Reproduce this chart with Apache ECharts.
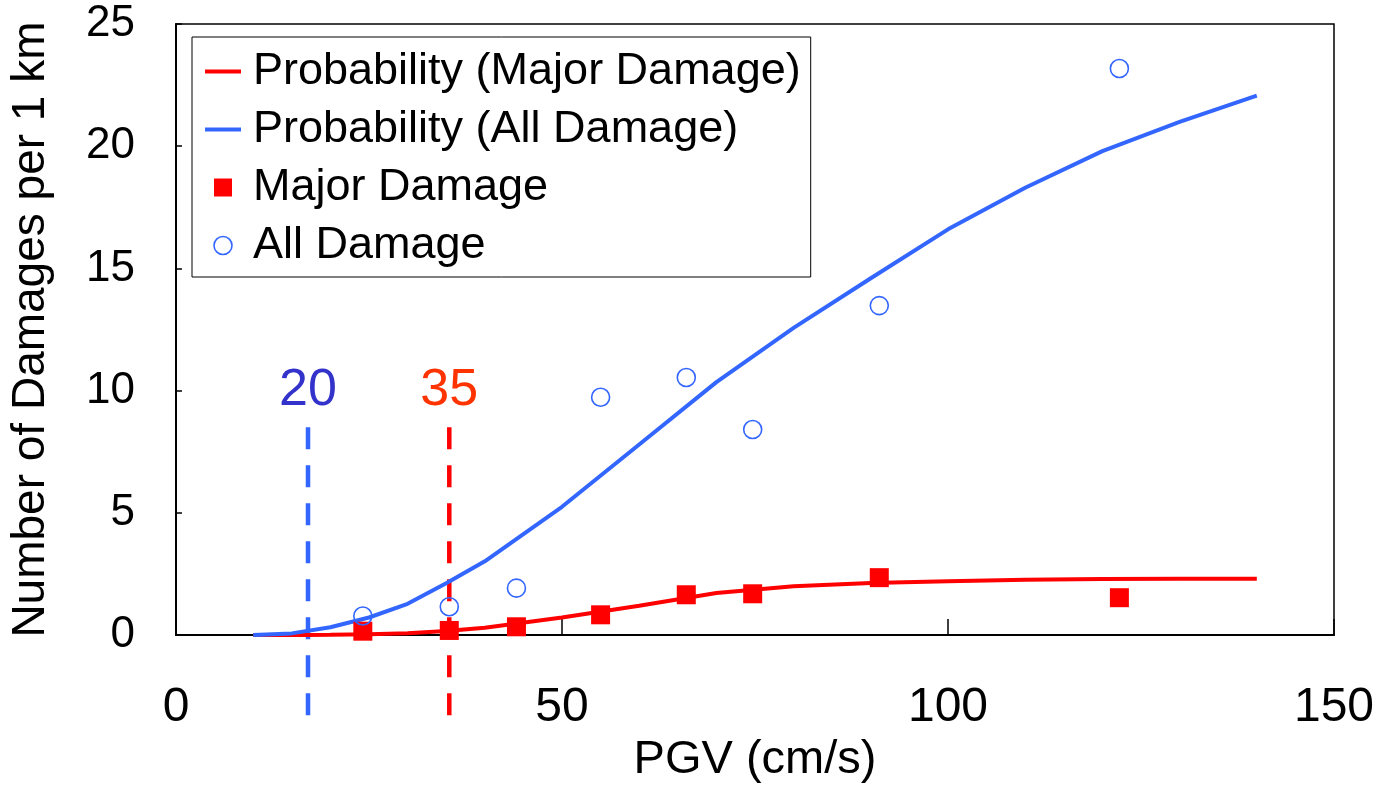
<!DOCTYPE html>
<html><head><meta charset="utf-8">
<script src="https://cdn.jsdelivr.net/npm/echarts@6/dist/echarts.min.js"></script>
<style>html,body{margin:0;padding:0;background:#fff}#c{width:1387px;height:789px}</style>
</head><body><div id="c"></div>
<script>
const pgvObserved = [24.2, 35.4, 44.1, 55.0, 66.1, 74.7, 91.1, 122.2];
const majorDamage = [0.16, 0.19, 0.34, 0.83, 1.65, 1.69, 2.35, 1.53];
const allDamage   = [0.78, 1.16, 1.92, 9.73, 10.54, 8.41, 13.48, 23.18];
// Fitted probability curves
const pgvCurve  = [10, 15, 20, 25, 30, 35, 40, 50, 60, 70, 80, 90, 100, 110, 120, 130, 140];
const probMajor = [0, 0, 0.01, 0.03, 0.08, 0.17, 0.3, 0.72, 1.2, 1.72, 2.0, 2.13, 2.2, 2.26, 2.3, 2.31, 2.31];
const probAll   = [0, 0.07, 0.32, 0.72, 1.28, 2.12, 3.02, 5.25, 7.8, 10.35, 12.57, 14.6, 16.6, 18.3, 19.8, 21.0, 22.07];
// Threshold markers
const thresholdX = [17.1, 35.4];
const thresholdLabels = ['20', '35'];
// Axes
const xTickValues = [0, 50, 100, 150];
const yTickValues = [0, 5, 10, 15, 20, 25];
const seriesNames = ['Probability (Major Damage)', 'Probability (All Damage)', 'Major Damage', 'All Damage'];

const FONT = '"Liberation Sans", Arial, Helvetica, sans-serif';
const RED = '#FF0000', BLUE = '#3366FF';
const thresholdColors = [BLUE, RED];
const thresholdTextColors = ['#3333CC', '#FF3300'];
const dashTop = 8.5, dashBottom = -3.4;

const zip = (xs, ys) => xs.map((x, i) => [x, ys[i]]);

const series = [];
thresholdX.forEach((x, i) => {
  series.push({
    name: 'threshold' + i, type: 'line', clip: false, silent: true, symbol: 'none',
    data: [[x, dashTop], [x, dashBottom]],
    lineStyle: { color: thresholdColors[i], width: 4.5, type: [22, 16] }, z: 1
  });
  series.push({
    name: 'thresholdLabel' + i, type: 'scatter', silent: true, symbolSize: 2,
    itemStyle: { color: 'rgba(0,0,0,0)', opacity: 1 },
    data: [[x, dashTop]],
    label: { show: true, position: 'top', distance: 10, formatter: thresholdLabels[i],
      color: thresholdTextColors[i], opacity: 1, fontSize: 52, fontFamily: FONT }, z: 1
  });
});
series.push({
  name: seriesNames[0], type: 'line', symbol: 'none', data: zip(pgvCurve, probMajor),
  lineStyle: { color: RED, width: 4 }, itemStyle: { color: RED }, z: 2
});
series.push({
  name: seriesNames[1], type: 'line', symbol: 'none', data: zip(pgvCurve, probAll),
  lineStyle: { color: BLUE, width: 4 }, itemStyle: { color: BLUE }, z: 3
});
series.push({
  name: seriesNames[2], type: 'scatter', symbol: 'rect', symbolSize: 19,
  data: zip(pgvObserved, majorDamage), itemStyle: { color: RED, opacity: 1 }, z: 4
});
series.push({
  name: seriesNames[3], type: 'scatter', symbol: 'circle', symbolSize: 18,
  data: zip(pgvObserved, allDamage),
  itemStyle: { color: 'rgba(0,0,0,0)', borderColor: BLUE, borderWidth: 1.6, opacity: 1 }, z: 5
});

const lineIcon = 'path://M0,0H36V4H0Z';
const chart = echarts.init(document.getElementById('c'), null, { renderer: 'canvas' });
chart.setOption({
  animation: false,
  backgroundColor: '#fff',
  grid: { left: 176, right: 53, top: 24, bottom: 153, show: true, borderColor: '#000', borderWidth: 1.5 },
  xAxis: {
    type: 'value', min: xTickValues[0], max: xTickValues[xTickValues.length - 1],
    interval: xTickValues[1] - xTickValues[0],
    name: 'PGV (cm/s)', nameLocation: 'middle', nameGap: 100,
    nameTextStyle: { fontSize: 47, color: '#000', fontFamily: FONT },
    axisLine: { lineStyle: { color: '#000', width: 2 } },
    axisTick: { inside: true, length: 16, lineStyle: { color: '#000', width: 1.5 } },
    axisLabel: { fontSize: 48, color: '#000', margin: 49, fontFamily: FONT },
    splitLine: { show: false }
  },
  yAxis: {
    type: 'value', min: yTickValues[0], max: yTickValues[yTickValues.length - 1],
    interval: yTickValues[1] - yTickValues[0],
    name: 'Number of Damages per 1 km', nameLocation: 'middle', nameGap: 122,
    nameTextStyle: { fontSize: 46, color: '#000', fontFamily: FONT },
    axisLine: { show: true, lineStyle: { color: '#000', width: 2 } },
    axisTick: { show: true, inside: true, length: 6, lineStyle: { color: '#000', width: 1.5 } },
    axisLabel: { fontSize: 44, color: '#000', margin: 41, fontFamily: FONT },
    splitLine: { show: false }
  },
  legend: {
    data: [
      { name: seriesNames[0], icon: lineIcon },
      { name: seriesNames[1], icon: lineIcon },
      { name: seriesNames[2], icon: 'path://M0,0H10V10H0Z' },
      { name: seriesNames[3], icon: 'circle', itemStyle: { color: '#fff', borderColor: BLUE, borderWidth: 1.6 } }
    ],
    orient: 'vertical', left: 192, top: 37,
    padding: [12, 10, 9, 13],
    itemWidth: 36, itemHeight: 18, itemGap: 13,
    backgroundColor: '#fff', borderColor: '#000', borderWidth: 1,
    textStyle: { fontSize: 45, color: '#000', fontFamily: FONT, padding: [0, 0, 0, 7] },
    selectedMode: false
  },
  series: series
});
</script></body></html>
